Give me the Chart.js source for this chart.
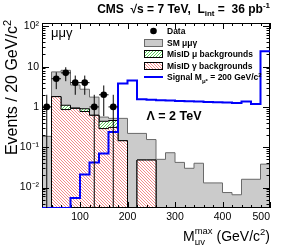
<!DOCTYPE html>
<html>
<head>
<meta charset="utf-8">
<script src="https://cdn.jsdelivr.net/npm/chart.js@4.4.0/dist/chart.umd.min.js"></script>
<style>
  html, body { margin: 0; padding: 0; background: #fff; }
  #wrap { position: relative; width: 284px; height: 245px; }
</style>
</head>
<body>
<div id="wrap"><canvas id="chart" width="284" height="245"></canvas></div>
<script>
/* ── data, 20 GeV/c² bins ── */
const binLow = [20, 40, 60, 80, 100, 120, 140, 160, 180, 200, 220, 240,
                260, 280, 300, 320, 340, 360, 380, 400, 420, 440, 460, 480];
const binWidth = 20;

const smMuMuGamma = [0.186, 5.6, 7.0, 2.56, 1.85, 1.13, 0.12, 0.06, 0.375, 0.22, 0.172, 0.107,
                     0.05, 0.073, 0.042, 0.03, 0.04, 0.013, 0.013, 0.0075, 0.0066, 0.016, 0.016, 0.038];
const misIdMu     = [0, 0, 0.24, 0.02, 0.13, 0, 0.15, 0.15, 0, 0, 0, 0,
                     0, 0, 0, 0, 0, 0, 0, 0, 0, 0, 0, 0];
const misIdGamma  = [0, 1.8, 0.86, 0.92, 0.77, 0.62, 0.29, 0.31, 0.145, 0, 0.048, 0.048,
                     0, 0, 0, 0, 0, 0, 0, 0, 0, 0, 0, 0];
const signal200   = [0, 0, 0, 0.0055, 0.021, 0.042, 0.07, 0.24, 3.8, 4.5, 1.54, 1.5,
                     1.47, 1.44, 1.41, 1.38, 1.36, 1.33, 1.31, 1.28, 1.26, 1.36, 1.19, 24];

const dataX   = [30, 50, 70, 90, 110, 130, 150, 170];
const dataN   = [1, 5, 7, 4, 4, 1, 2, 1];
const dataErr = [1, 2.24, 2.65, 2, 2, 1, 1.41, 1];

const xTicks = [20, 100, 200, 300, 400, 500];
const yTicks = [0.01, 0.1, 1, 10, 100];
const yTickText = ["10\u207B\u00B2", "10\u207B\u00B9", "1", "10", "10\u00B2"];

const X_MIN = 20, X_MAX = 500, Y_MIN = 0.0031, Y_MAX = 121;
const FAM = '"Liberation Sans", Arial, Helvetica, sans-serif';

/* ── helpers ── */
const pos = v => (v > 0 ? v : Y_MIN);

function stepPoints(vals) {
  const pts = vals.map((v, i) => ({ x: binLow[i], y: pos(v) }));
  pts.push({ x: binLow[binLow.length - 1] + binWidth, y: pos(vals[vals.length - 1]) });
  return pts;
}

function hatch(color, back) {
  const n = 3;
  const c = document.createElement("canvas");
  c.width = c.height = n;
  const g = c.getContext("2d");
  g.fillStyle = "#fff";
  g.fillRect(0, 0, n, n);
  g.fillStyle = color;
  for (let i = 0; i < n; i++) g.fillRect(back ? i : n - 1 - i, i, 1, 1);
  return g.createPattern(c, "repeat");
}

const cumGreen = misIdGamma.map((v, i) => v + misIdMu[i]);
const cumTotal = cumGreen.map((v, i) => v + smMuMuGamma[i]);

const errV = [], errH = [];
dataX.forEach((x, i) => {
  errV.push({ x, y: pos(dataN[i] - dataErr[i]) }, { x, y: dataN[i] + dataErr[i] }, { x, y: null });
  errH.push({ x: x - binWidth / 2, y: dataN[i] }, { x: x + binWidth / 2, y: dataN[i] }, { x, y: null });
});

const redHatch = hatch("rgb(244,140,140)", true);
const greenHatch = hatch("rgb(90,210,90)", false);
const grayFill = "#cbcbcb";
const grayLine = "#6a6a6a";
const blue = "rgb(0,0,250)";

/* ── rich text (sub/superscripts) ── */
function segWidth(ctx, s) {
  ctx.font = `${s.b ? "bold " : ""}${s.size}px ${FAM}`;
  if (s.stack) return Math.max(ctx.measureText(s.stack[0]).width, ctx.measureText(s.stack[1]).width);
  return ctx.measureText(s.t).width;
}
function drawRich(ctx, x, y, segs, align) {
  const w = segs.reduce((a, s) => a + segWidth(ctx, s), 0);
  let cx = align === "right" ? x - w : x;
  ctx.textAlign = "left";
  ctx.textBaseline = "alphabetic";
  segs.forEach(s => {
    const sw = segWidth(ctx, s);
    if (s.stack) {
      ctx.fillText(s.stack[0], cx, y + s.dy[0]);
      ctx.fillText(s.stack[1], cx, y + s.dy[1]);
    } else {
      ctx.fillText(s.t, cx, y + (s.dy || 0));
    }
    cx += sw;
  });
}

/* ── frame + inward ticks, drawn right after the red histogram ── */
const framePlugin = {
  id: "frame",
  afterDatasetDraw(chart, args) {
    if (args.index !== 3) return;
    const { ctx, chartArea: a, scales: { x, y } } = chart;
    ctx.save();
    ctx.strokeStyle = "#000";
    ctx.lineWidth = 1;
    ctx.strokeRect(a.left + 0.5, a.top + 0.5, a.right - a.left - 1, a.bottom - a.top - 1);
    ctx.beginPath();
    for (let v = X_MIN; v <= X_MAX; v += 20) {
      const px = Math.round(x.getPixelForValue(v)) + 0.5;
      const len = v % 100 === 0 ? 6 : 3;
      ctx.moveTo(px, a.bottom); ctx.lineTo(px, a.bottom - len);
      ctx.moveTo(px, a.top); ctx.lineTo(px, a.top + len);
    }
    for (let e = -3; e <= 2; e++) {
      for (let m = 1; m <= 9; m++) {
        const v = m * Math.pow(10, e);
        if (v < Y_MIN || v > Y_MAX) continue;
        const py = Math.round(y.getPixelForValue(v)) + 0.5;
        const len = m === 1 ? 7 : 3.5;
        ctx.moveTo(a.left, py); ctx.lineTo(a.left + len, py);
        ctx.moveTo(a.right, py); ctx.lineTo(a.right - len, py);
      }
    }
    ctx.stroke();
    ctx.restore();
  }
};

/* ── labels, legend and titles ── */
const textPlugin = {
  id: "texts",
  afterDraw(chart) {
    const ctx = chart.ctx;
    ctx.save();
    ctx.fillStyle = "#000";

    drawRich(ctx, 270, 13, [
      { t: "CMS  \u221As = 7 TeV,  L", size: 12, b: 1 },
      { t: "int", size: 8, b: 1, dy: 3 },
      { t: " =  36 pb", size: 12, b: 1 },
      { t: "-1", size: 8, b: 1, dy: -5 }
    ], "right");

    drawRich(ctx, 51, 37, [{ t: "\u03BC\u03BC\u03B3", size: 13 }]);
    drawRich(ctx, 146.5, 119.5, [{ t: "\u039B = 2 TeV", size: 12.5, b: 1 }]);

    // legend
    const bx = 144, bw = 19, bh = 8, tx = 167;
    const rows = [31, 42.5, 54, 65.5, 77];
    ctx.beginPath();
    ctx.arc(bx + bw / 2, rows[0], 3.3, 0, Math.PI * 2);
    ctx.fill();
    const boxes = [[grayFill, grayLine], [greenHatch, "#000"], [redHatch, "#000"]];
    boxes.forEach(([f, s], i) => {
      const yy = Math.round(rows[i + 1] - bh / 2);
      ctx.fillStyle = f;
      ctx.fillRect(bx, yy, bw, bh);
      ctx.strokeStyle = s;
      ctx.lineWidth = 1;
      ctx.strokeRect(bx + 0.5, yy + 0.5, bw - 1, bh - 1);
    });
    ctx.strokeStyle = blue;
    ctx.lineWidth = 2;
    ctx.beginPath();
    ctx.moveTo(bx, rows[4]); ctx.lineTo(bx + bw, rows[4]);
    ctx.stroke();

    ctx.fillStyle = "#000";
    const ls = 8.5;
    drawRich(ctx, tx, rows[0] + 3, [{ t: "Data", size: ls, b: 1 }]);
    drawRich(ctx, tx, rows[1] + 3, [{ t: "SM \u03BC\u03BC\u03B3", size: ls, b: 1 }]);
    drawRich(ctx, tx, rows[2] + 3, [{ t: "MisID \u03BC backgrounds", size: ls, b: 1 }]);
    drawRich(ctx, tx, rows[3] + 3, [{ t: "MisID \u03B3 backgrounds", size: ls, b: 1 }]);
    drawRich(ctx, tx, rows[4] + 3, [
      { t: "Signal M", size: ls, b: 1 },
      { t: "\u03BC*", size: 6, b: 1, dy: 2.5 },
      { t: " = 200 GeV/c", size: ls, b: 1 },
      { t: "2", size: 6, b: 1, dy: -3.5 }
    ]);

    // x title
    drawRich(ctx, 270, 241, [
      { t: "M", size: 14 },
      { stack: ["max", "\u03BC\u03B3"], size: 9.5, dy: [-7, 3.5] },
      { t: " (GeV/c", size: 14 },
      { t: "2", size: 9.5, dy: -6 },
      { t: ")", size: 14 }
    ], "right");

    // y title
    ctx.translate(16.5, 20);
    ctx.rotate(-Math.PI / 2);
    drawRich(ctx, 0, 0, [
      { t: "Events / 20 GeV/c", size: 16 },
      { t: "2", size: 11, dy: -6 }
    ], "right");
    ctx.restore();
  }
};

new Chart(document.getElementById("chart"), {
  type: "line",
  data: {
    datasets: [
      { label: "Data", data: dataX.map((x, i) => ({ x, y: dataN[i] })), order: 0,
        showLine: false, pointRadius: 3.3, pointBackgroundColor: "#000", pointBorderWidth: 0 },
      { label: "err", data: errV.concat(errH), order: 1, spanGaps: false,
        borderColor: "#000", borderWidth: 1, pointRadius: 0, fill: false },
      { label: "Signal", data: stepPoints(signal200), order: 2, stepped: true,
        borderColor: blue, borderWidth: 2, pointRadius: 0, fill: false },
      { label: "MisID gamma", data: stepPoints(misIdGamma), order: 3, stepped: true,
        borderColor: "#000", borderWidth: 1, pointRadius: 0, fill: "start", backgroundColor: redHatch },
      { label: "MisID mu", data: stepPoints(cumGreen), order: 4, stepped: true,
        borderColor: "#000", borderWidth: 1, pointRadius: 0, fill: "start", backgroundColor: greenHatch },
      { label: "SM", data: stepPoints(cumTotal), order: 5, stepped: true,
        borderColor: grayLine, borderWidth: 1, pointRadius: 0, fill: "start", backgroundColor: grayFill }
    ]
  },
  options: {
    responsive: false,
    animation: false,
    devicePixelRatio: 1,
    events: [],
    layout: { padding: { top: 23, right: 14, bottom: 0, left: 0 } },
    plugins: { legend: { display: false }, tooltip: { enabled: false } },
    scales: {
      x: {
        type: "linear", min: X_MIN, max: X_MAX,
        grid: { display: false, drawTicks: false }, border: { display: false },
        ticks: { align: "inner", padding: 3, color: "#000", maxRotation: 0,
                 font: { family: FAM, size: 10.5 },
                 callback: v => (v === X_MIN ? "" : String(v)) },
        afterBuildTicks: s => { s.ticks = xTicks.map(v => ({ value: v })); },
        afterFit: s => { s.height = 37; }
      },
      y: {
        type: "logarithmic", min: Y_MIN, max: Y_MAX,
        grid: { display: false, drawTicks: false }, border: { display: false },
        ticks: { padding: 3, color: "#000", font: { family: FAM, size: 10.5 },
                 callback: v => yTickText[Math.round(Math.log10(v)) + 2] },
        afterBuildTicks: s => { s.ticks = yTicks.map(v => ({ value: v })); },
        afterFit: s => { s.width = 42; }
      }
    }
  },
  plugins: [framePlugin, textPlugin]
});
</script>
</body>
</html>
